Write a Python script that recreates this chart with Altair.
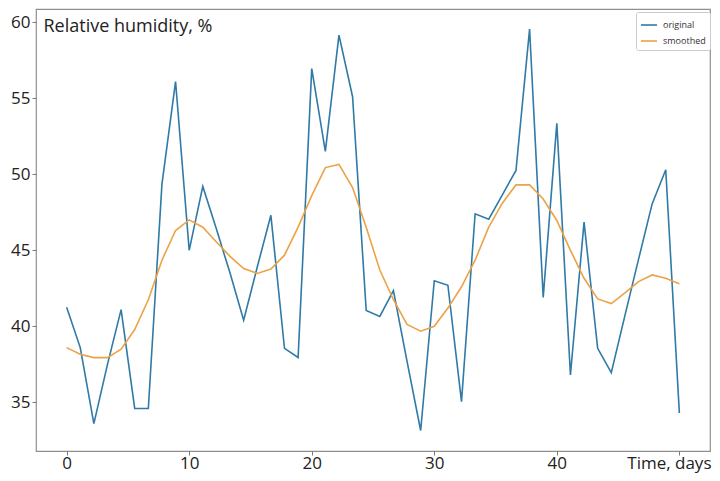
import altair as alt
import pandas as pd
import numpy as np

# time axis: 46 samples spanning 0..50 days
days = list(np.linspace(0, 50, 46))

original = [41.25, 38.6, 33.6, 37.5, 41.1, 34.6, 34.6, 49.35, 56.1, 45.0,
            49.2, 46.4, 43.5, 40.4, 43.9, 47.3, 38.55, 37.95, 56.95, 51.5,
            59.15, 55.1, 41.05, 40.65, 42.35, 37.7, 33.15, 43.0, 42.7, 35.05,
            47.4, 47.05, 48.65, 50.25, 59.55, 41.9, 53.35, 36.8, 46.85, 38.55,
            36.95, 40.7, 44.4, 48.05, 50.3, 34.3]

smoothed = [38.6, 38.16, 37.94, 37.94, 38.49, 39.79, 41.75, 44.35, 46.3, 47.0,
            46.52, 45.55, 44.6, 43.8, 43.48, 43.77, 44.68, 46.52, 48.6, 50.44,
            50.65, 49.13, 46.52, 43.7, 41.75, 40.12, 39.68, 40.0, 41.2, 42.6,
            44.35, 46.52, 48.1, 49.3, 49.3, 48.37, 46.96, 45.0, 43.16, 41.8,
            41.5, 42.2, 42.94, 43.38, 43.16, 42.8]

series_names = ["original", "smoothed"]
series_colors = ["#2f7aa6", "#eca246"]
x_ticks = [0, 10, 20, 30, 40, 50]
y_ticks = [35, 40, 45, 50, 55, 60]

df = pd.concat([
    pd.DataFrame({"t": days, "v": original, "series": "original"}),
    pd.DataFrame({"t": days, "v": smoothed, "series": "smoothed"}),
])

FONT = "Open Sans"

chart = alt.Chart(df).mark_line(strokeWidth=1.6).encode(
    x=alt.X("t:Q",
            scale=alt.Scale(domain=[-2.5, 52.5], nice=False, zero=False),
            axis=alt.Axis(values=x_ticks, grid=False, domain=False,
                          tickSize=4, tickColor="#777", labelPadding=0,
                          labelFontSize=17, labelColor="#222", labelFont=FONT,
                          labelFlush=False, labelOverlap=False,
                          labelExpr="datum.value == 50 ? '' : datum.label",
                          title="Time, days", titleX=675, titleY=17,
                          titleAlign="right", titleBaseline="alphabetic",
                          titleFontSize=17, titleFontWeight="normal",
                          titleFont=FONT, titleColor="#222")),
    y=alt.Y("v:Q",
            scale=alt.Scale(domain=[31.8, 60.87], nice=False, zero=False),
            axis=alt.Axis(values=y_ticks, title="Relative humidity, %", grid=False,
                          domain=False, tickSize=4, tickColor="#777", labelPadding=2,
                          labelFontSize=17, labelColor="#222", labelFont=FONT,
                          titleAngle=0, titleAlign="left", titleBaseline="alphabetic",
                          titleX=7, titleY=22, titleFontSize=18, titleFontWeight="normal",
                          titleFont=FONT, titleColor="#222")),
    color=alt.Color("series:N",
                    scale=alt.Scale(domain=series_names, range=series_colors),
                    legend=alt.Legend(title=None, orient="none", legendX=600, legendY=3,
                                      symbolType="stroke", symbolSize=260,
                                      symbolStrokeWidth=1.6, labelFontSize=9,
                                      labelFont=FONT, labelColor="#333",
                                      fillColor="white", strokeColor="#ccc",
                                      padding=4, cornerRadius=2, rowPadding=2,
                                      labelOffset=5)),
).properties(
    width=674, height=442,
    autosize=alt.AutoSizeParams(type="none"),
    padding={"left": 28, "top": 1, "right": 2, "bottom": 22},
).configure_view(
    stroke="#8f8f8f", strokeWidth=1.2
)

chart.save("out.html", embed_options={"renderer": "svg", "actions": False})
